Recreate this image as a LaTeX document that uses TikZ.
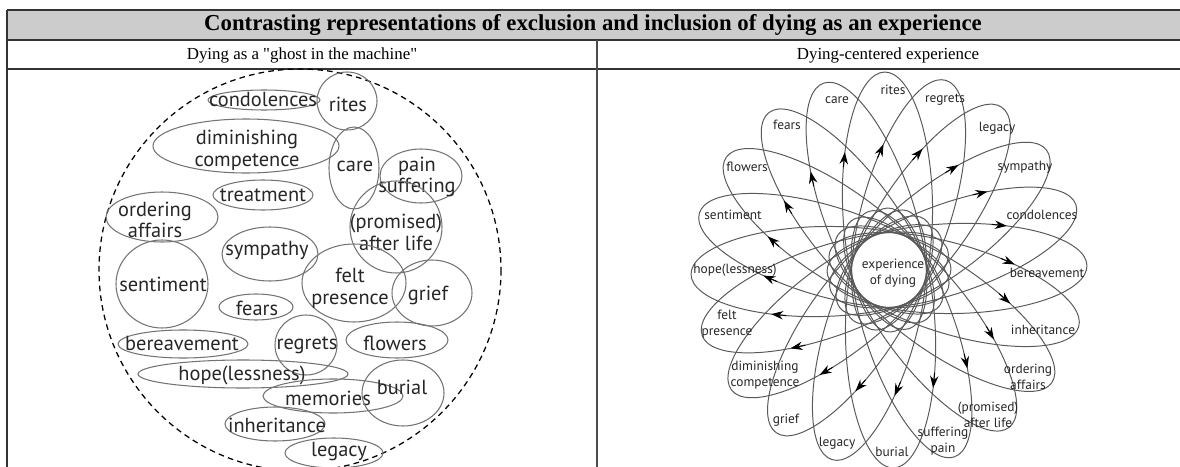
\documentclass[tikz,border=0pt]{standalone}
\usepackage{fontspec}
\setmainfont{Liberation Serif}
\newfontfamily\capfont{Liberation Serif}
\newfontfamily\petalfont{PT Sans}
\usepackage{tikz}
\usetikzlibrary{arrows.meta}

\begin{document}
\begin{tikzpicture}[x=0.025cm, y=-0.025cm,
    tablerule/.style={draw=black!80, line width=1.4pt},
    bubble/.style={draw=black!55, line width=0.75pt},
    bubbletext/.style={text=black!85, font=\petalfont\fontsize{14.5}{15.5}\selectfont, align=center, inner sep=0pt},
    petal/.style={draw=black!65, line width=0.7pt},
    petaltext/.style={text=black!85, font=\petalfont\fontsize{9.5}{11.5}\selectfont, align=center, inner sep=0pt},
    headarrow/.style={-{Stealth[length=8.5pt,width=6pt]}, black, line width=0.7pt}]
    \useasboundingbox (0,0) rectangle (1180,467);

    % Table frame
    \fill[black!20] (7,10) rectangle (1180,40);
    \draw[tablerule] (7,10) -- (1180,10);
    \draw[tablerule] (7,40) -- (1180,40);
    \draw[tablerule] (7,69) -- (1180,69);
    \draw[tablerule] (7,10) -- (7,467);
    \draw[draw=black!70, line width=0.8pt] (597,40) -- (597,467);

    % Captions
    \node[font=\bfseries\fontsize{16.2}{18}\selectfont] (title) at (593,25) {Contrasting representations of exclusion and inclusion of dying as an experience};
    \node[font=\capfont\fontsize{12}{14}\selectfont] (leftcap) at (302,55) {Dying as a "ghost in the machine"};
    \node[font=\capfont\fontsize{12}{14}\selectfont] (rightcap) at (888,55) {Dying-centered experience};

    % Left panel: loose bubbles inside the dashed circle
    \draw[dashed, dash pattern=on 4pt off 3pt, line width=0.9pt] (300,270) circle (201);

    \draw[bubble] (264,100) ellipse (56 and 10);
    \node[bubbletext] (cond) at (263,99) {condolences};
    \draw[bubble] (246,146) ellipse (93 and 27);
    \node[bubbletext] (dimin) at (247,150) {diminishing\\competence};
    \draw[bubble] (263,195) ellipse (50 and 15);
    \node[bubbletext] (treat) at (263,195) {treatment};
    \draw[bubble] (162,217) ellipse (56 and 25);
    \node[bubbletext] (order) at (155,220) {ordering\\affairs};
    \draw[bubble] (270,254) ellipse (48 and 27);
    \node[bubbletext] (symp) at (267,250) {sympathy};
    \draw[bubble] (162,284) ellipse (46 and 44);
    \node[bubbletext] (senti) at (163,284) {sentiment};
    \draw[bubble] (256,307) ellipse (37 and 13);
    \node[bubbletext] (fears) at (257,308) {fears};
    \draw[bubble] (183,344) ellipse (65 and 14);
    \node[bubbletext] (berea) at (182,343) {bereavement};
    \draw[bubble] (306,345) ellipse (31 and 30);
    \node[bubbletext] (regr) at (307,345) {regrets};
    \draw[bubble] (243,374) ellipse (105 and 14);
    \node[bubbletext] (hope) at (242,375) {hope(lessness)};
    \draw[bubble] (333,396) ellipse (70 and 17);
    \node[bubbletext] (memo) at (328,398) {memories};
    \draw[bubble] (275,424) ellipse (50 and 17);
    \node[bubbletext] (inher) at (277,425) {inheritance};
    \draw[bubble] (334,453) ellipse (49 and 15);
    \node[bubbletext] (legacy) at (339,452) {legacy};
    \draw[bubble] (347,101) ellipse (30 and 29);
    \node[bubbletext] (rites) at (348,104) {rites};
    \draw[bubble] (354,168) ellipse (25 and 41);
    \node[bubbletext] (care) at (355,166) {care};
    \draw[bubble] (421,176) ellipse (41 and 27);
    \node[bubbletext] (pain) at (417,177) {pain\\suffering};
    \draw[bubble] (396,227) ellipse (46 and 46);
    \node[bubbletext] (after) at (396,232) {(promised)\\after life};
    \draw[bubble] (354,283) ellipse (52 and 39);
    \node[bubbletext] (felt) at (350,288) {felt\\presence};
    \draw[bubble] (432,293) ellipse (40 and 33);
    \node[bubbletext] (grief) at (428,295) {grief};
    \draw[bubble] (397,340) ellipse (51 and 18);
    \node[bubbletext] (flow) at (395,343) {flowers};
    \draw[bubble] (403,393) ellipse (41 and 33);
    \node[bubbletext] (burial) at (402,387) {burial};

    % Right panel: petals round the centre
    \begin{scope}[shift={(889,270)}, x=0.025cm, y=0.025cm]
        \foreach \k in {0,...,19}{
            \pgfmathsetmacro\ang{1.3+18*\k}
            \draw[petal, rotate=\ang] (68,0) ellipse (130 and 45);
            \draw[headarrow, rotate=\ang] ({68+130*cos(74)},{45*sin(74)}) -- ({68+130*cos(67)},{45*sin(67)});
        }
        \node[petaltext] (core) at (4,-3) {experience\\of dying};
    \end{scope}

    % Petal labels
    \node[petaltext] (rcare) at (837,100) {care};
    \node[petaltext] (rrites) at (893,90) {rites};
    \node[petaltext] (rregr) at (945,100) {regrets};
    \node[petaltext] (rleg) at (997,128) {legacy};
    \node[petaltext] (rsymp) at (1025,167) {sympathy};
    \node[petaltext] (rcond) at (1042,215) {condolences};
    \node[petaltext] (rberea) at (1047,273) {bereavement};
    \node[petaltext] (rinher) at (1043,330) {inheritance};
    \node[petaltext] (rorder) at (1028,377) {ordering\\affairs};
    \node[petaltext] (rafter) at (988,415) {(promised)\\after life};
    \node[petaltext] (rpain) at (943,441) {suffering\\pain};
    \node[petaltext] (rburial) at (892,452) {burial};
    \node[petaltext] (rleg2) at (837,443) {legacy};
    \node[petaltext] (rgrief) at (786,420) {grief};
    \node[petaltext] (rdimin) at (765,375) {diminishing\\competence};
    \node[petaltext] (rfelt) at (727,324) {felt\\presence};
    \node[petaltext] (rhope) at (735,270) {hope(lessness)};
    \node[petaltext] (rsenti) at (733,215) {sentiment};
    \node[petaltext] (rflow) at (747,167) {flowers};
    \node[petaltext] (rfears) at (787,125) {fears};
\end{tikzpicture}
\end{document}
